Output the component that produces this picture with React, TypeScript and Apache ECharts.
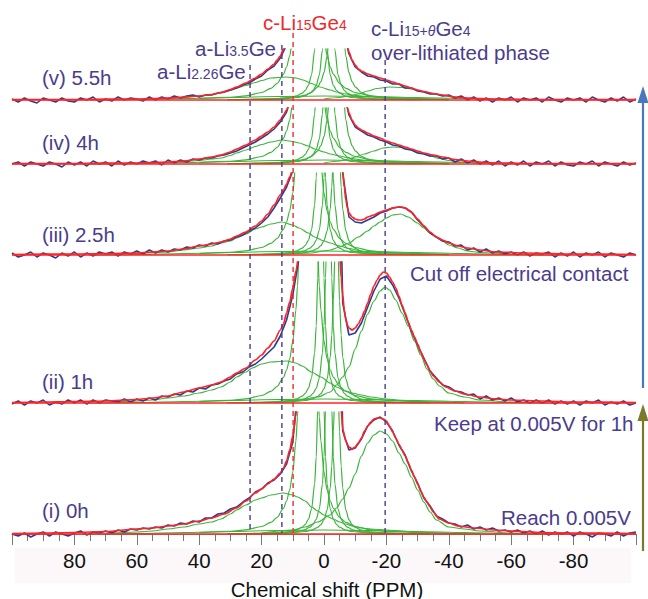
import React, { useEffect, useRef } from "react";
import * as echarts from "echarts";

const PPM_STEP = Array.from({ length: 101 }, (_, i) => 100 - 2 * i); // 100 .. -100 every 2 ppm
const DASH_PPM = [23.7, 13.5, 9.9, -19.6]; // a-Li2.26Ge, a-Li3.5Ge, c-Li15Ge4, c-Li15+θGe4

// experimental spectra (blue), sampled on PPM_STEP
const BLUE_V = [
  1, -2, 2, -1, -3, 2, 0, -2, 2, -1,
  -2, 2, 0, 3, -2, 1, -1, 3, 0, 2,
  1, -1, 3, 0, 3, 1, 4, 2, 4, 5,
  3, 5, 5, 7, 8, 10, 12, 15, 17, 21,
  24, 30, 34, 42, 55, 80, 150, 400, 400, 400,
  400, 400, 400, 73, 46, 33, 28, 24, 23, 20,
  19, 16, 16, 12, 12, 9, 8, 6, 6, 4,
  5, 2, 4, 0, 3, -1, 2, -2, 2, 0,
  3, -2, 2, 0, 2, -2, 3, 0, -2, 2,
  0, 2, -2, 3, 0, -2, 2, -1, 3, -2,
  1,
];
const BLUE_IV = [
  0, 2, -2, 2, 0, -2, 2, 0, -3, 2,
  -1, 2, -2, 3, 0, 2, -2, 3, -1, 2,
  0, 3, 1, 3, -1, 4, 1, 4, 2, 5,
  4, 6, 6, 8, 9, 11, 13, 16, 19, 22,
  26, 30, 35, 42, 52, 72, 150, 400, 400, 400,
  400, 400, 400, 78, 49, 37, 33, 29, 27, 24,
  22, 19, 18, 15, 14, 11, 10, 8, 8, 5,
  6, 2, 5, 1, 4, 0, 3, -1, 3, -2,
  2, -1, 3, -2, 2, 0, 3, -2, 2, -1,
  -2, 2, 0, 3, -2, 2, 0, -2, 2, -1,
  1,
];
const BLUE_III = [
  2, -2, 0, 3, -2, 2, 0, -3, 2, -1,
  3, -2, 2, -1, 3, 1, 3, -1, 3, 1,
  4, 1, 5, 2, 5, 3, 6, 5, 8, 7,
  10, 9, 12, 11, 14, 15, 18, 20, 24, 27,
  32, 38, 47, 57, 68, 84, 130, 400, 400, 400,
  400, 400, 400, 82, 38, 33, 32, 35, 38, 42,
  44, 47, 48, 47, 43, 35, 29, 22, 18, 14,
  13, 9, 10, 5, 7, 3, 6, 2, 4, 1,
  3, 0, 3, -1, 2, 1, 3, -2, 2, -1,
  3, -2, 2, 0, 3, -2, 2, 0, -2, 2,
  0,
];
const BLUE_II = [
  -1, 2, -2, 2, 0, 3, -2, 1, -1, 3,
  0, 3, -1, 3, 0, 3, 2, 1, 4, 1,
  4, 2, 5, 3, 7, 6, 9, 8, 12, 11,
  15, 14, 18, 19, 22, 24, 29, 31, 36, 39,
  44, 50, 56, 67, 83, 108, 145, 400, 400, 400,
  400, 400, 400, 100, 68, 70, 80, 96, 112, 124,
  127, 118, 105, 89, 72, 58, 45, 32, 25, 18,
  16, 12, 11, 8, 9, 4, 7, 3, 5, 2,
  5, 1, 3, 0, 3, 0, 3, -1, 2, -1,
  2, -2, 2, 0, 3, -2, 1, -1, 2, -2,
  0,
];
const BLUE_I = [
  0, -2, 1, -3, 0, 2, -2, 2, 0, -2,
  1, 3, -1, 2, 1, 3, 1, 4, 2, 5,
  4, 6, 5, 7, 6, 9, 8, 11, 10, 13,
  12, 16, 16, 20, 21, 25, 27, 32, 36, 42,
  45, 51, 54, 60, 70, 92, 160, 400, 400, 400,
  400, 400, 400, 103, 84, 86, 95, 108, 114, 117,
  112, 103, 89, 79, 63, 51, 36, 28, 18, 15,
  11, 10, 7, 9, 5, 7, 4, 6, 3, 4,
  2, 4, 1, 3, 0, 3, -1, 2, 0, 2,
  -2, 2, 0, -3, 1, 0, -2, 2, -2, 1,
  2,
];

// total fits (red), [ppm, height]
const FIT_V = [[100,0.5],[80,0.5],[70,1],[60,1],[55,1.5],[50,2],[45,3],[40,4],[36,5.5],[33,7.5],[30,10.5],[28,13],[25,17],[22,22],[20,26],[18,31],[16,36],[15,40],[14,44],[13,51],[12,58],[11,68],[10,85],[8,150],[5,600],[0,600],[-4,300],[-6,75],[-7,60],[-7.5,53],[-8,48],[-9,40],[-10,35],[-11,31],[-12,29],[-14,26],[-16,24],[-18,22],[-20,20],[-22,18],[-24,16],[-26,14],[-28,12],[-30,10],[-32,8.5],[-35,6.5],[-38,5],[-42,3],[-46,2],[-50,1.5],[-55,1],[-70,0.5],[-100,0.5]];
const FIT_IV = [[100,0.5],[80,0.5],[70,1],[60,1],[55,1.5],[50,2],[45,3],[40,5],[36,7],[33,9],[30,12],[28,15],[25,19],[22,24],[20,28],[18,32],[16,37],[14,44],[13,49],[12,54],[11,62],[10,75],[9,100],[8,150],[5,600],[0,600],[-4,300],[-6,80],[-7,62],[-7.5,56],[-8,51],[-9,44],[-10,39],[-11,36],[-12,34],[-14,31],[-16,28],[-18,26],[-20,23],[-22,21],[-24,19],[-26,17],[-28,15],[-30,13],[-32,11],[-35,9],[-38,7],[-42,4.5],[-46,3],[-50,2],[-55,1],[-70,0.5],[-100,0.5]];
const FIT_III = [[100,0.5],[80,1],[70,1.5],[60,2],[55,3],[50,4],[45,6],[40,9],[36,11],[33,13],[30,16],[28,19],[25,23],[22,29],[20,34],[18,41],[16,50],[14,60],[13,65],[12,71],[11,78],[10,86],[9,100],[8,130],[7,250],[5,800],[0,800],[-4,300],[-5,120],[-5.5,100],[-6,84],[-6.5,68],[-7,55],[-7.5,47],[-8,42],[-9,38],[-10,36],[-11,35],[-12,35],[-13,36],[-14,38],[-16,40],[-18,43],[-20,45],[-22,47],[-24,48],[-25,48],[-26,47],[-28,43],[-30,36],[-32,29],[-34,23],[-36,18],[-38,15],[-40,12],[-43,9],[-46,7],[-50,5],[-55,3],[-65,2],[-80,1],[-100,0.5]];
const FIT_II = [[100,0.5],[90,1],[80,1.5],[70,2],[60,3.5],[55,5],[50,7],[45,11],[40,15],[36,18],[33,21],[30,26],[28,30],[25,35],[22,43],[20,48],[18,55],[16,62],[14,73],[13,79],[12,90],[11,101],[10,115],[9,132],[8,150],[7,250],[5,800],[0,800],[-4,300],[-5,150],[-5.5,125],[-6,108],[-6.5,93],[-7,84],[-7.5,78],[-8,75],[-9,73],[-10,75],[-11,79],[-12,85],[-13,92],[-14,100],[-15,109],[-16,117],[-17,123],[-18,128],[-19,131],[-20,130],[-21,126],[-22,121],[-23,115],[-24,107],[-25,98],[-26,90],[-27,81],[-28,73],[-29,66],[-30,59],[-31,51],[-32,44],[-33,38],[-34,32],[-35,27],[-37,21],[-39,16],[-42,12],[-45,9],[-50,6],[-55,4],[-60,3],[-70,2],[-80,1],[-100,0.5]];
const FIT_I = [[100,0.5],[90,1],[80,1.5],[70,2.5],[60,5],[55,6],[50,8],[45,10],[40,13],[36,16],[32,20],[28,26],[25,33],[22,41],[20,45],[18,50],[16,55],[14,61],[13,66],[12,73],[11,84],[10,98],[9,118],[8,160],[7,300],[5,800],[0,800],[-4,300],[-5,160],[-5.5,125],[-6,105],[-7,93],[-8,87],[-9,85],[-10,87],[-11,91],[-12,96],[-13,103],[-14,108],[-15,112],[-16,115],[-17,116],[-18,116],[-19,115],[-20,113],[-21,108],[-22,102],[-23,96],[-24,90],[-25,84],[-26,78],[-27,71],[-28,64],[-29,57],[-30,50],[-31,43],[-32,37],[-33,32],[-34,27],[-35,22],[-37,15],[-40,11],[-43,8],[-48,6],[-55,4],[-60,3],[-70,1.5],[-80,1],[-100,0.5]];

// fitted components (green)
const LOW = [[75,0],[60,0.5],[45,1.5],[30,2.5],[15,3.5],[0,4],[-15,3.5],[-30,2.5],[-45,1.5],[-60,0.5],[-75,0]];
const S1 = [[40,1.4],[30,2.7],[25,4.2],[20,7.5],[17,11.6],[15,16.6],[13,25.7],[12,33],[11,44],[10,62],[9,93],[8.5,117],[8,151],[7,272],[6,523],[5,755],[4,523],[3,272],[2,151],[1.5,117],[1,93],[0,62],[-1,44],[-2,33],[-3,25.7],[-5,16.6],[-7,11.6],[-10,7.5],[-15,4.2],[-20,2.7],[-30,1.4],[-40,0.8]];
const S2 = [[31,0.3],[21,0.6],[16,1.1],[11,2.5],[9,3.8],[7,6.8],[6,9.6],[5,14.7],[4,25],[3,50],[2.5,77],[2,125],[1.5,200],[1,250],[0.5,200],[0,125],[-0.5,77],[-1,50],[-2,25],[-3,14.7],[-4,9.6],[-5,6.8],[-7,3.8],[-9,2.5],[-14,1.1],[-19,0.6],[-29,0.3]];
const S3 = [[28.5,0.3],[18.5,0.6],[13.5,1.1],[8.5,2.5],[6.5,3.8],[4.5,6.8],[3.5,9.6],[2.5,14.7],[1.5,25],[0.5,50],[0,77],[-0.5,125],[-1,200],[-1.5,250],[-2,200],[-2.5,125],[-3,77],[-3.5,50],[-4.5,25],[-5.5,14.7],[-6.5,9.6],[-7.5,6.8],[-9.5,3.8],[-11.5,2.5],[-16.5,1.1],[-21.5,0.6],[-31.5,0.3]];
const S4 = [[26,0.3],[16,0.6],[11,1.1],[6,2.5],[4,3.8],[2,6.7],[1,9.4],[0,14.3],[-1,24],[-2,46],[-2.5,68],[-3,102],[-3.5,148],[-4,174],[-4.5,148],[-5,102],[-5.5,68],[-6,46],[-7,24],[-8,14.3],[-9,9.4],[-10,6.7],[-12,3.8],[-14,2.5],[-19,1.1],[-24,0.6],[-34,0.3]];
const S4W = [[26,0.55],[16,1.2],[11,2.2],[8,3.4],[6,4.9],[4,7.5],[2,13.1],[1,18.3],[0,27.4],[-1,44],[-2,80],[-2.5,111],[-3,154],[-3.5,200],[-4,222],[-4.5,200],[-5,154],[-5.5,111],[-6,80],[-7,44],[-8,27.4],[-9,18.3],[-10,13.1],[-12,7.5],[-14,4.9],[-16,3.4],[-19,2.2],[-24,1.2],[-34,0.55]];

const G1_V = [[60,0.5],[50,1.5],[45,2.5],[40,4],[36,5.5],[33,7],[30,9.5],[28,12],[25,14.5],[22,17.5],[20,19.5],[17,22],[12,23],[9,22],[6.7,20],[4,16.5],[1.3,13],[-2,10],[-4,8],[-7,6],[-9,5],[-12,4],[-15,3],[-20,2],[-30,1],[-40,0]];
const G2_V = [[0,1],[-5,2.5],[-8,4],[-11,6],[-14,9],[-17,11.5],[-21,13],[-25,12.5],[-28,11],[-31,9],[-34,7],[-37,5],[-40,3.5],[-44,2],[-50,1],[-60,0]];
const G1_IV = [[60,0.5],[50,1.5],[45,2.5],[40,3.5],[36,5],[33,6],[30,8.5],[28,11],[25,14],[22,17.5],[20,19.5],[17,22],[13.5,24],[10,22.5],[8,21],[5,18],[3,15],[0,12],[-2,10],[-5,8],[-8,6],[-11,4.5],[-15,3],[-20,2],[-30,1],[-40,0]];
const G2_IV = [[0,1],[-5,3],[-8,5],[-10,7],[-13,10],[-16,13],[-19,16],[-22,17],[-25,16.5],[-28,14],[-31,11],[-34,8],[-37,5.5],[-40,3.5],[-44,2],[-50,1],[-60,0]];
const G1_III = [[70,0.5],[60,1.5],[50,3],[45,5],[40,7],[36,9],[33,12],[30,14],[28,17],[25,21],[22,26],[20,28],[17,31],[13.5,33],[10,30],[8,27],[5,22],[3,18],[0,14],[-2,12],[-5,9],[-8,6.5],[-12,4],[-15,3],[-20,2],[-30,1],[-40,0]];
const G2_III = [[10,1],[4,2],[0,4],[-2,5],[-5,8],[-8,12],[-11,18],[-14,24],[-16,29],[-18,33],[-20,37],[-22,40],[-24.5,41],[-27,38],[-30,32],[-32,27],[-34,22],[-36,18],[-38,14],[-40,10],[-43,7],[-46,4],[-50,2.5],[-60,1],[-70,0]];
const G1_II = [[70,0.5],[60,2],[55,3],[50,5],[45,7],[40,10],[36,13],[33,16],[30,21],[28,26],[25,31],[23,35],[20,39],[17,41],[12,42],[9,40],[7,37],[4,31],[1,26],[-2,20],[-4,16],[-7,12],[-9,10],[-12,8],[-15,6],[-20,4],[-26,2],[-35,1],[-45,0]];
const G2_II = [[15,1],[8,3],[2,6],[-2,11],[-4,18],[-6,26],[-8,36],[-10,54],[-12,72],[-14,89],[-16,102],[-18,112],[-19.6,116],[-21,113],[-23,103],[-25,90],[-27,77],[-29,62],[-31,48],[-33,34],[-35,24],[-37,17],[-40,10],[-45,6],[-50,3],[-60,1],[-70,0]];
const G1_I = [[70,0.5],[60,2],[55,3],[50,5],[45,7],[40,10],[36,12],[33,15],[30,20],[28,24],[25,29],[22,34],[20,36],[17,39],[13,41],[10,39],[8.5,37],[6,33],[4,27],[2,23],[0,19],[-3,15],[-5,12],[-7,10],[-9,8],[-12,6],[-15,5],[-20,4],[-25,3],[-30,2],[-40,0.5],[-50,0]];
const G2_I = [[20,1],[10,4],[6,7],[2,12],[-2,19],[-4,26],[-6,35],[-8,46],[-10,60],[-12,78],[-14,91],[-16,99],[-18,103],[-20,100],[-22,93],[-24,81],[-26,70],[-28,57],[-30,44],[-32,32],[-34,22],[-36,14],[-40,7],[-45,5],[-50,3],[-60,1],[-70,0]];

const SPECTRA = [
  { label: "(v) 5.5h", fit: FIT_V, blue: BLUE_V, comps: [LOW, G1_V, G2_V, S1, S2, S3, S4W] },
  { label: "(iv) 4h", fit: FIT_IV, blue: BLUE_IV, comps: [LOW, G1_IV, G2_IV, S1, S2, S3, S4W] },
  { label: "(iii) 2.5h", fit: FIT_III, blue: BLUE_III, comps: [LOW, G1_III, G2_III, S1, S2, S3, S4] },
  { label: "(ii) 1h", fit: FIT_II, blue: BLUE_II, comps: [LOW, G1_II, G2_II, S1, S2, S3, S4] },
  { label: "(i) 0h", fit: FIT_I, blue: BLUE_I, comps: [LOW, G1_I, G2_I, S1, S2, S3, S4] },
];

// ---------- LAYOUT / STYLE ----------
const W = 648;
const H = 599;
const LAYOUT = [
  { top: 49, base: 100, labelY: 77 },
  { top: 108, base: 164, labelY: 142 },
  { top: 173, base: 255, labelY: 234 },
  { top: 262, base: 403, labelY: 381 },
  { top: 412, base: 534, labelY: 510 },
];
const BELOW = 6;
const C_BLUE = "#2e3a94";
const C_RED = "#ff2424";
const C_GREEN = "#3cb43c";
const C_PURPLE = "#4b3c8c";
const C_TXT_RED = "#ee2a2a";
const FONT = "Liberation Sans, Arial, sans-serif";
const FS = 20.5;

export default function App() {
  const ref = useRef<HTMLDivElement>(null);
  useEffect(() => {
    if (!ref.current) return;
    const chart = echarts.init(ref.current, undefined, { renderer: "svg" });
    const grids: any[] = LAYOUT.map((l) => ({ left: 12, right: 12, top: l.top, height: l.base - l.top + BELOW }));
    grids.push({ left: 12, right: 12, top: 0, height: H });
    const xAxes: any[] = LAYOUT.map((l, i) => {
      const bottom = i === LAYOUT.length - 1;
      return {
        type: "value", gridIndex: i, min: -100, max: 100, interval: 20, inverse: true,
        show: bottom,
        axisLine: { show: true, onZero: true, lineStyle: { color: "#8a8a8a", width: 1 } },
        axisTick: { show: true, inside: false, length: 11, lineStyle: { color: "#777", width: 1 } },
        minorTick: { show: true, splitNumber: 4, length: 7, lineStyle: { color: "#777", width: 1 } },
        splitLine: { show: false },
        axisLabel: {
          show: true, margin: 10, color: "#111", fontSize: FS, fontFamily: FONT,
          showMinLabel: false, showMaxLabel: false,
          formatter: (v: number) => (Math.abs(v) === 100 ? "" : String(v)),
        },
      };
    });
    xAxes.push({ type: "value", gridIndex: 5, min: -100, max: 100, inverse: true, show: false });
    const yAxes: any[] = LAYOUT.map((l, i) => ({
      type: "value", gridIndex: i, min: -BELOW, max: l.base - l.top, show: false, splitLine: { show: false },
    }));
    yAxes.push({ type: "value", gridIndex: 5, min: 0, max: H, inverse: true, show: false });

    const series: any[] = [];
    const common = { type: "line", symbol: "none", showSymbol: false, silent: true, clip: true, animation: false };
    SPECTRA.forEach((s, i) => {
      s.comps.forEach((c) => {
        series.push({
          ...common, xAxisIndex: i, yAxisIndex: i, z: 2, smooth: 0.3, smoothMonotone: "x",
          data: c, lineStyle: { color: C_GREEN, width: 1.2 },
        });
      });
      series.push({
        ...common, xAxisIndex: i, yAxisIndex: i, z: 3,
        data: s.blue.map((v, k) => [PPM_STEP[k], v]),
        lineStyle: { color: C_BLUE, width: 1.6 },
      });
      series.push({
        ...common, xAxisIndex: i, yAxisIndex: i, z: 4, smooth: 0.3, smoothMonotone: "x",
        data: s.fit, lineStyle: { color: C_RED, width: 1.7 },
      });
      series.push({
        ...common, xAxisIndex: i, yAxisIndex: i, z: 4,
        data: [[100, 0], [-100, 0]], lineStyle: { color: C_RED, width: 1.6 },
      });
    });
    const dashSpans = [
      { y1: 65, y2: 533, color: C_PURPLE },
      { y1: 45, y2: 533, color: C_PURPLE },
      { y1: 33, y2: 533, color: "#f02a2a" },
      { y1: 60, y2: 533, color: C_PURPLE },
    ];
    DASH_PPM.forEach((p, k) => {
      series.push({
        ...common, xAxisIndex: 5, yAxisIndex: 5, z: 5,
        data: [[p, dashSpans[k].y1], [p, dashSpans[k].y2]],
        lineStyle: { color: dashSpans[k].color, width: 1.4, type: [5, 4] },
      });
    });

    const txt = (text: string, x: number, y: number, fill = C_PURPLE, extra: any = {}) => ({
      type: "text", x, y, z: 10,
      style: { text, fill, fontSize: FS, fontFamily: FONT, verticalAlign: "middle", align: "left", ...extra },
    });
    const sub = { fontSize: 14, fontFamily: FONT, verticalAlign: "bottom", lineHeight: 19 };
    const big = { fontSize: FS, fontFamily: FONT, lineHeight: 19 };
    const richStyle = (fill: string) => ({
      rich: { b: { ...big, fill }, s: { ...sub, fill }, si: { ...sub, fill, fontStyle: "italic" } },
    });

    const graphics: any[] = [
      { type: "rect", z: -1, shape: { x: 15, y: 548, width: 616, height: 35 }, style: { fill: "#fcf8fa" } },
      ...SPECTRA.map((s, i) => txt(s.label, 42, LAYOUT[i].labelY)),
      txt("{b|a-Li}{s|3.5}{b|Ge}", 195, 48, C_PURPLE, richStyle(C_PURPLE)),
      txt("{b|a-Li}{s|2.26}{b|Ge}", 157, 71, C_PURPLE, richStyle(C_PURPLE)),
      txt("{b|c-Li}{s|15}{b|Ge}{s|4}", 263, 22, C_TXT_RED, richStyle(C_TXT_RED)),
      txt("{b|c-Li}{s|15+}{si|θ}{b|Ge}{s|4}", 371, 28, C_PURPLE, richStyle(C_PURPLE)),
      txt("over-lithiated phase", 371, 52),
      txt("Cut off electrical contact", 410, 273),
      txt("Keep at 0.005V for 1h", 434, 423),
      txt("Reach 0.005V", 501, 517),
      txt("Chemical shift (PPM)", 327, 589, "#111", { align: "center" }),
      // arrows
      { type: "line", z: 10, shape: { x1: 643, y1: 388, x2: 643, y2: 100 }, style: { stroke: "#4a78bf", lineWidth: 2.2 } },
      { type: "polygon", z: 10, shape: { points: [[643, 86], [637.5, 103], [648.5, 103]] }, style: { fill: "#4a78bf" } },
      { type: "line", z: 10, shape: { x1: 643, y1: 551, x2: 643, y2: 418 }, style: { stroke: "#7b7a2a", lineWidth: 2.2 } },
      { type: "polygon", z: 10, shape: { points: [[643, 404], [637.5, 421], [648.5, 421]] }, style: { fill: "#7b7a2a" } },
    ];

    chart.setOption({
      animation: false,
      backgroundColor: "#ffffff",
      grid: grids,
      xAxis: xAxes,
      yAxis: yAxes,
      series,
      graphic: graphics,
    });
    return () => chart.dispose();
  }, []);
  return <div ref={ref} style={{ position: "absolute", left: 0, top: 0, width: W, height: H }} />;
}
